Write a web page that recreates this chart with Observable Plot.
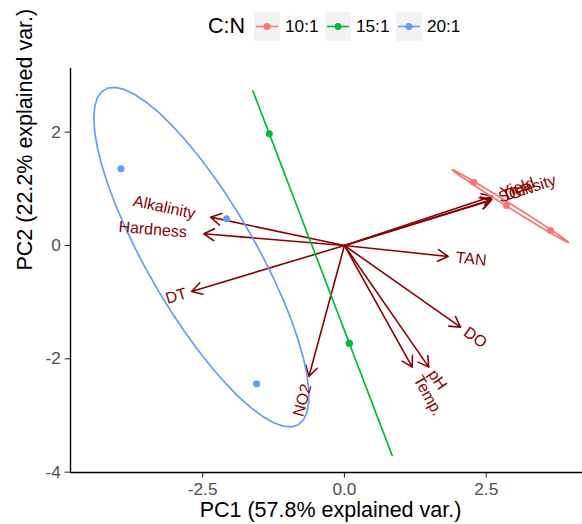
<!DOCTYPE html>
<html><head><meta charset="utf-8">
<script src="https://cdn.jsdelivr.net/npm/d3@7"></script>
<script src="https://cdn.jsdelivr.net/npm/@observablehq/plot@0.6"></script>
<style>
body{margin:0;background:#fff;font-family:"Liberation Sans",Arial,sans-serif;}
#wrap{position:relative;width:582px;height:524px;overflow:hidden;}
#legend{position:absolute;left:208px;top:0;height:52px;display:flex;align-items:center;white-space:nowrap;}
#legend .t{font-size:21.5px;color:#000;margin-right:9px;}
#legend .l{font-size:17.2px;color:#000;margin-left:5px;margin-right:6.5px;}
#legend svg{display:block;}
#chart{position:absolute;left:0;top:50px;}
</style></head><body>
<div id="wrap"><div id="legend"></div><div id="chart"></div></div>
<script>
// groups and colours
const groups = ["10:1", "15:1", "20:1"];
const groupColors = ["#F8766D", "#00BA38", "#619CFF"];
// sample scores
const sampleGroup = ["10:1", "10:1", "10:1", "15:1", "15:1", "15:1", "20:1", "20:1", "20:1"];
const pc1 = [2.281, 2.857, 3.633, -1.325, 0.085, 0.085, -3.941, -2.078, -1.549];
const pc2 = [1.117, 0.706, 0.265, 1.971, -1.724, -1.724, 1.353, 0.471, -2.440];
// variable loadings (arrow tips)
const varNames = ["Yield", "Density", "SGR", "TAN", "DO", "pH", "Temp.", "NO2", "DT", "Hardness", "Alkalinity"];
const loadX = [2.61, 2.60, 2.58, 1.829, 2.046, 1.487, 1.195, -0.627, -2.695, -2.478, -2.36];
const loadY = [0.87, 0.81, 0.795, -0.194, -1.442, -2.147, -2.147, -2.312, -0.812, 0.206, 0.50];
// axis ticks
const xTicks = [-2.5, 0, 2.5];
const yTicks = [2, 0, -2, -4];
const xTitle = "PC1 (57.8% explained var.)";
const yTitle = "PC2 (22.2% explained var.)";
const legendTitle = "C:N";

const xDomain = [-4.83, 4.197];
const yDomain = [-4.006, 3.123];
const ellipseProb = 0.68;
const labelSize = 16;
const pxPerUnit = 56.7;

// legend
const leg = document.getElementById("legend");
leg.innerHTML = `<span class="t">${legendTitle}</span>` + groups.map((g, i) =>
  `<svg width="26" height="29"><rect width="26" height="29" fill="#F2F2F2"/><line x1="2" x2="24" y1="14.5" y2="14.5" stroke="${groupColors[i]}" stroke-width="1.6"/><circle cx="13" cy="14.5" r="3.4" fill="${groupColors[i]}"/></svg><span class="l">${g}</span>`).join("");

// samples table
const samples = pc1.map((x, i) => ({x, y: pc2[i], g: sampleGroup[i]}));

// ellipses (as in ggbiplot: ed * circle %*% chol(sigma) + mu)
const ed = Math.sqrt(-2 * Math.log(1 - ellipseProb));
const theta = [...d3.range(50).map(i => -Math.PI + 2 * Math.PI * i / 49), ...d3.range(50).map(i => Math.PI - 2 * Math.PI * i / 49)];
const ellipses = [];
for (const g of groups) {
  const s = samples.filter(d => d.g === g);
  const n = s.length;
  const mx = d3.mean(s, d => d.x), my = d3.mean(s, d => d.y);
  const sxx = d3.sum(s, d => (d.x - mx) ** 2) / (n - 1);
  const syy = d3.sum(s, d => (d.y - my) ** 2) / (n - 1);
  const sxy = d3.sum(s, d => (d.x - mx) * (d.y - my)) / (n - 1);
  const r11 = Math.sqrt(sxx), r12 = sxy / r11, r22 = Math.sqrt(Math.max(0, syy - r12 * r12));
  theta.forEach((t, k) => ellipses.push({g, k, x: mx + ed * Math.cos(t) * r11, y: my + ed * (Math.cos(t) * r12 + Math.sin(t) * r22)}));
}

// variable labels
const ctx = document.createElement("canvas").getContext("2d");
ctx.font = `${labelSize}px "Liberation Sans", Arial, sans-serif`;
const vars = varNames.map((name, i) => {
  const x = loadX[i], y = loadY[i];
  const len = Math.hypot(x, y);
  const off = 0.25 * ctx.measureText(name).width / pxPerUnit;
  const angle = Math.atan(y / x) * 180 / Math.PI;
  return {name, x, y, lx: x + x / len * off, ly: y + y / len * off, rot: -angle, pos: x > 0};
});

const dark = "#8B0000";
const fmtX = d => d.toFixed(1);
const fmtY = d => String(d);

const chart = Plot.plot({
  width: 582,
  height: 474,
  marginTop: 18,
  marginBottom: 52,
  marginLeft: 70,
  marginRight: 0,
  style: {fontFamily: '"Liberation Sans", Arial, sans-serif', background: "white", overflow: "visible"},
  x: {domain: xDomain, ticks: xTicks, tickFormat: fmtX, label: null},
  y: {domain: yDomain, ticks: yTicks, tickFormat: fmtY, label: null},
  color: {domain: groups, range: groupColors},
  marks: [
    Plot.axisX({ticks: xTicks, tickFormat: fmtX, tickSize: 5.4, tickPadding: 5, fontSize: 17.2, color: "#4D4D4D", stroke: "#333333", strokeWidth: 1.1, label: null}),
    Plot.axisY({ticks: yTicks, tickFormat: fmtY, tickSize: 5.4, tickPadding: 4.3, fontSize: 17.2, color: "#4D4D4D", stroke: "#333333", strokeWidth: 1.1, label: null}),
    Plot.ruleX([xDomain[0]], {stroke: "black", strokeWidth: 1.4}),
    Plot.ruleY([yDomain[0]], {stroke: "black", strokeWidth: 1.4}),
    Plot.arrow(vars, {x1: () => 0, y1: () => 0, x2: "x", y2: "y", stroke: dark, strokeWidth: 1.6, headLength: 11, headAngle: 60}),
    Plot.dot(samples, {x: "x", y: "y", fill: "g", r: 3.5}),
    Plot.line(ellipses, {x: "x", y: "y", z: "g", stroke: "g", strokeWidth: 1.7, curve: "linear"}),
    Plot.text(vars.filter(d => d.pos), {x: "lx", y: "ly", text: "name", rotate: "rot", textAnchor: "start", fill: dark, fontSize: labelSize}),
    Plot.text(vars.filter(d => !d.pos), {x: "lx", y: "ly", text: "name", rotate: "rot", textAnchor: "end", fill: dark, fontSize: labelSize}),
    Plot.text([xTitle], {frameAnchor: "bottom", text: d => d, dx: 4, dy: 44, fontSize: 21.5, fill: "black"}),
    Plot.text([yTitle], {frameAnchor: "left", text: d => d, dx: -45, rotate: -90, fontSize: 21.5, fill: "black"})
  ]
});
document.getElementById("chart").appendChild(chart);
</script>
</body></html>
